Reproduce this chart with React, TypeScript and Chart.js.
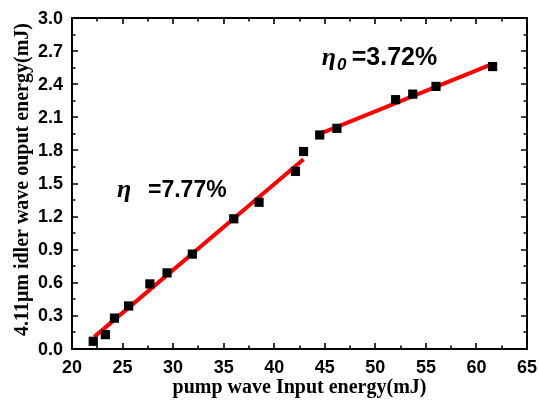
import React, { useEffect, useRef } from "react";
import { Chart, registerables } from "chart.js";

Chart.register(...registerables);

// Measured data: pump energy (mJ) vs 4.11 µm idler output (mJ)
const pumpEnergy = [22.1, 23.3, 24.2, 25.6, 27.7, 29.4, 31.9, 36.0, 38.5, 42.1, 42.9, 44.5, 46.2, 52.0, 53.7, 56.0, 61.6];
const idlerEnergy = [0.07, 0.13, 0.28, 0.39, 0.59, 0.69, 0.86, 1.18, 1.33, 1.61, 1.79, 1.94, 2.0, 2.26, 2.31, 2.38, 2.56];

// Linear fit segments
const fit1X = [22.2, 42.9];
const fit1Y = [0.11, 1.72];
const fit2X = [44.5, 61.6];
const fit2Y = [1.95, 2.585];

// Axis ticks
const xTicks = [20, 25, 30, 35, 40, 45, 50, 55, 60, 65];
const yTicks = [0, 0.3, 0.6, 0.9, 1.2, 1.5, 1.8, 2.1, 2.4, 2.7, 3.0];
const xMinorTicks = [22.5, 27.5, 32.5, 37.5, 42.5, 47.5, 52.5, 57.5, 62.5];
const yMinorTicks = [0.15, 0.45, 0.75, 1.05, 1.35, 1.65, 1.95, 2.25, 2.55, 2.85];

// Annotation texts: [symbol, subscript, text]
const annotationTexts: [string, string, string][] = [
  ["η", "", "=7.77%"],
  ["η", "0", "=3.72%"],
];

const xTitle = "pump wave Input energy(mJ)";
const yTitle = "4.11μm idler wave ouput energy(mJ)";

const TICK_FONT = "bold 18px 'Liberation Sans'";
const TITLE_FONT = "bold 20px 'Liberation Serif'";

const framePlugin = {
  id: "frameTicks",
  afterDatasetsDraw(chart: any) {
    const { ctx, chartArea: a, scales } = chart;
    const xs = scales.x;
    const ys = scales.y;
    ctx.save();
    ctx.strokeStyle = "#000";
    ctx.lineWidth = 2;
    ctx.strokeRect(a.left, a.top, a.right - a.left, a.bottom - a.top);
    const major = 6;
    const minor = 3.5;
    ctx.lineWidth = 1.6;
    ctx.beginPath();
    const xt = (v: number, len: number) => {
      const px = Math.round(xs.getPixelForValue(v));
      ctx.moveTo(px, a.bottom);
      ctx.lineTo(px, a.bottom - len);
      ctx.moveTo(px, a.top);
      ctx.lineTo(px, a.top + len);
    };
    const yt = (v: number, len: number) => {
      const py = Math.round(ys.getPixelForValue(v));
      ctx.moveTo(a.left, py);
      ctx.lineTo(a.left + len, py);
      ctx.moveTo(a.right, py);
      ctx.lineTo(a.right - len, py);
    };
    xTicks.forEach((v) => xt(v, major));
    xMinorTicks.forEach((v) => xt(v, minor));
    yTicks.forEach((v) => yt(v, major));
    yMinorTicks.forEach((v) => yt(v, minor));
    ctx.stroke();

    // tick labels
    ctx.fillStyle = "#000";
    ctx.font = TICK_FONT;
    ctx.textBaseline = "alphabetic";
    ctx.textAlign = "center";
    xTicks.forEach((v) => {
      ctx.fillText(String(v), xs.getPixelForValue(v), a.bottom + 23.5);
    });
    ctx.textAlign = "right";
    yTicks.forEach((v) => {
      ctx.fillText(v.toFixed(1), a.left - 9, ys.getPixelForValue(v) + 5.5);
    });

    // axis titles
    ctx.font = TITLE_FONT;
    ctx.textAlign = "center";
    ctx.fillText(xTitle, (a.left + a.right) / 2, a.bottom + 44);
    ctx.save();
    ctx.translate(a.left - 44, a.bottom - 13);
    ctx.rotate(-Math.PI / 2);
    ctx.textAlign = "left";
    ctx.fillText(yTitle, 0, 0);
    ctx.restore();

    // annotations (anchored in data coordinates)
    const anchors: [number, number, number, number][] = [
      [24.45, 1.378, 31, 23],
      [44.7, 2.574, 30, 25],
    ];
    ctx.textAlign = "left";
    annotationTexts.forEach(([sym, sub, text], i) => {
      const [ax, ay, gap, size] = anchors[i];
      const px = xs.getPixelForValue(ax);
      const py = ys.getPixelForValue(ay);
      ctx.font = "italic bold 26px 'Liberation Serif'";
      ctx.fillText(sym, px, py);
      const w = ctx.measureText(sym).width;
      if (sub) {
        ctx.font = "italic bold 17px 'Liberation Sans'";
        ctx.fillText(sub, px + w + 1, py + 5);
      }
      ctx.font = `bold ${size}px 'Liberation Sans'`;
      ctx.fillText(text, px + gap, py);
    });
    ctx.restore();
  },
};

export default function App() {
  const ref = useRef<HTMLCanvasElement>(null);
  useEffect(() => {
    if (!ref.current) return;
    const chart = new Chart(ref.current, {
      type: "scatter",
      data: {
        datasets: [
          {
            label: "fit1",
            data: fit1X.map((x, i) => ({ x, y: fit1Y[i] })),
            showLine: true,
            borderColor: "#ff0000",
            borderWidth: 4,
            pointRadius: 0,
            order: 2,
          },
          {
            label: "fit2",
            data: fit2X.map((x, i) => ({ x, y: fit2Y[i] })),
            showLine: true,
            borderColor: "#ff0000",
            borderWidth: 4,
            pointRadius: 0,
            order: 2,
          },
          {
            label: "data",
            data: pumpEnergy.map((x, i) => ({ x, y: idlerEnergy[i] })),
            pointStyle: "rect",
            pointRadius: 6.5,
            backgroundColor: "#000",
            borderColor: "#000",
            borderWidth: 0,
            order: 1,
          },
        ],
      },
      options: {
        animation: false,
        responsive: false,
        layout: { padding: { left: 0, right: 12, top: 18, bottom: 0 } },
        plugins: { legend: { display: false }, tooltip: { enabled: false } },
        scales: {
          x: {
            type: "linear",
            min: 20,
            max: 65,
            grid: { display: false },
            border: { display: false },
            ticks: { display: false },
            afterFit: (s: any) => {
              s.height = 57;
            },
          },
          y: {
            type: "linear",
            min: 0,
            max: 3,
            grid: { display: false },
            border: { display: false },
            ticks: { display: false },
            afterFit: (s: any) => {
              s.width = 72;
            },
          },
        },
      },
      plugins: [framePlugin],
    } as any);
    return () => chart.destroy();
  }, []);
  return (
    <div style={{ position: "absolute", left: 0, top: 0, width: 539, height: 406, background: "#fff" }}>
      <canvas ref={ref} width={539} height={406} style={{ display: "block" }} />
    </div>
  );
}
